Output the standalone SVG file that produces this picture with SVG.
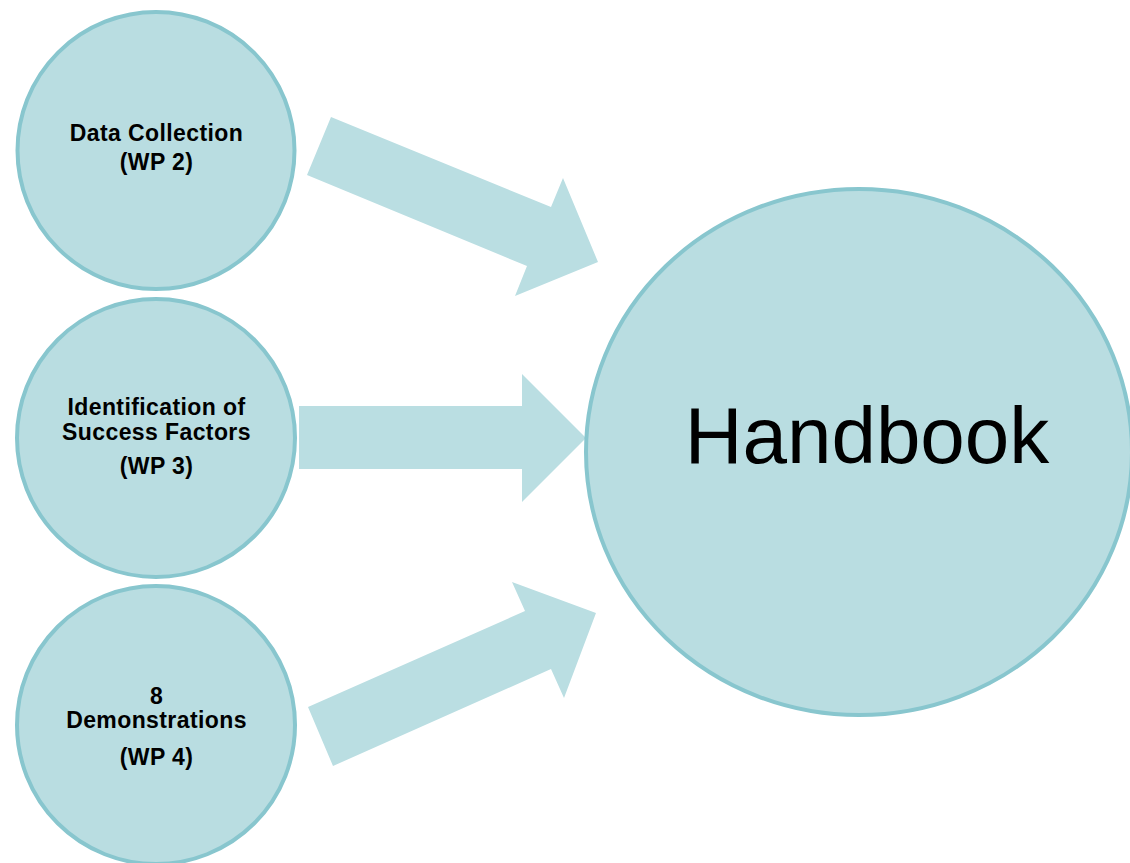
<svg xmlns="http://www.w3.org/2000/svg" width="1130" height="863" viewBox="0 0 1130 863">
  <style>
    .node { fill: #b9dde1; stroke: #88c6ce; stroke-width: 4; }
    .arrow { fill: #badee2; stroke: none; }
    .lbl { font-family: "Liberation Sans", Arial, sans-serif; font-weight: bold; font-size: 23px; letter-spacing: 0.4px; fill: #000; text-anchor: middle; }
    .big { font-family: "Liberation Sans", Arial, sans-serif; font-size: 80px; fill: #000; text-anchor: middle; }
  </style>
  <rect width="1130" height="863" fill="#ffffff"/>
  <g id="connectors">
    <polygon class="arrow" points="331,117 551,207 563,178 598,262 515,296 527,266 307,175"/>
    <polygon class="arrow" points="299,406 522,406 522,374 586,438 522,502 522,469 299,469"/>
    <polygon class="arrow" points="308,707 525,611 512,582 596,613 564,698 551,669 333,766"/>
  </g>
  <g id="node-data-collection">
    <circle class="node" cx="156" cy="150.5" r="138.5"/>
    <text class="lbl" x="156.5" y="141">Data Collection</text>
    <text class="lbl" x="156.5" y="170">(WP 2)</text>
  </g>
  <g id="node-success-factors">
    <circle class="node" cx="156" cy="438" r="139"/>
    <text class="lbl" x="156.5" y="415">Identification of</text>
    <text class="lbl" x="156.5" y="440">Success Factors</text>
    <text class="lbl" x="156.5" y="474">(WP 3)</text>
  </g>
  <g id="node-demonstrations">
    <circle class="node" cx="156" cy="725" r="139"/>
    <text class="lbl" x="156.5" y="704">8</text>
    <text class="lbl" x="156.5" y="728">Demonstrations</text>
    <text class="lbl" x="156.5" y="765">(WP 4)</text>
  </g>
  <g id="node-handbook">
    <ellipse class="node" cx="859" cy="452" rx="273" ry="263"/>
    <text class="big" x="867" y="463">Handbook</text>
  </g>
</svg>
